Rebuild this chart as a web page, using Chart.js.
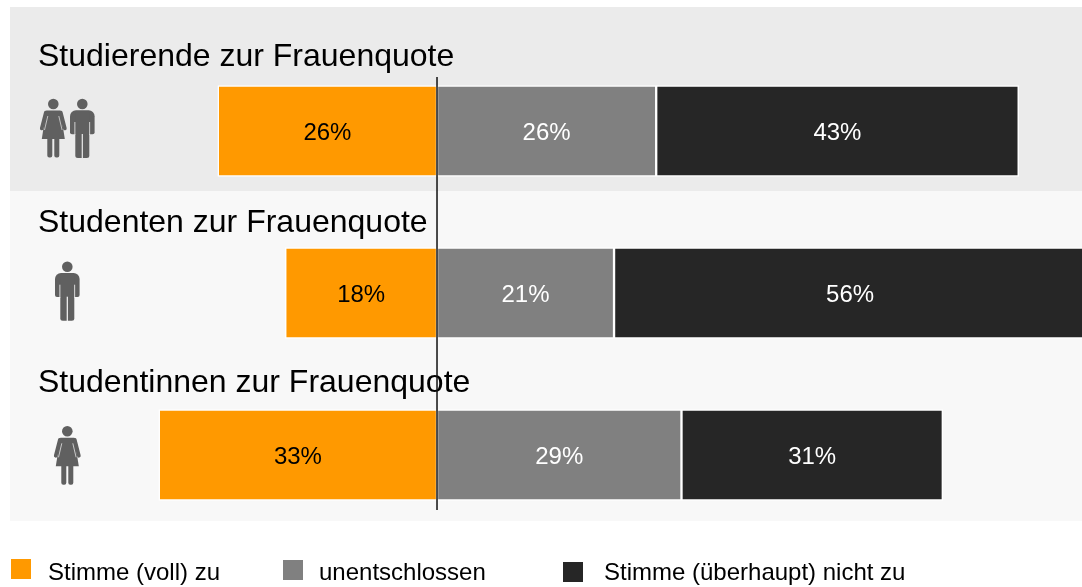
<!DOCTYPE html>
<html lang="de">
<head>
<meta charset="utf-8">
<title>Studierende zur Frauenquote</title>
<script src="https://cdn.jsdelivr.net/npm/chart.js@4"></script>
<style>
    html, body { margin: 0; padding: 0; background: #fff; overflow: hidden; }
    canvas { display: block; }
</style>
</head>
<body>
<canvas id="chart" width="1082" height="587"></canvas>
<script>
var categories = ['Studierende zur Frauenquote', 'Studenten zur Frauenquote', 'Studentinnen zur Frauenquote'];
var seriesNames = ['Stimme (voll) zu', 'unentschlossen', 'Stimme (überhaupt) nicht zu'];
var agree = [26, 18, 33];
var undecided = [26, 21, 29];
var disagree = [43, 56, 31];

var COLORS = ['#ff9900', '#808080', '#262626'];
var LABEL_COLORS = ['#000000', '#ffffff', '#ffffff'];
var FONT = '"Liberation Sans", Arial, sans-serif';
var ICON_COLOR = '#606060';

function drawMan(ctx, x, y, background) {
    ctx.save();
    ctx.translate(x, y);
    ctx.fillStyle = ICON_COLOR;
    ctx.beginPath();
    ctx.arc(0, 0, 5.3, 0, Math.PI * 2);
    ctx.fill();
    ctx.beginPath();
    ctx.roundRect(-12.3, 6.3, 24.6, 24, [6, 6, 2, 2]);
    ctx.fill();
    ctx.beginPath();
    ctx.roundRect(-7, 8, 14, 46, [0, 0, 2.5, 2.5]);
    ctx.fill();
    // gaps between arms, torso and legs
    ctx.fillStyle = background;
    ctx.fillRect(-7.8, 18, 0.8, 13);
    ctx.fillRect(7, 18, 0.8, 13);
    ctx.fillRect(-0.6, 30, 1.2, 25);
    ctx.restore();
}

function drawWoman(ctx, x, y, background) {
    ctx.save();
    ctx.translate(x, y);
    ctx.fillStyle = ICON_COLOR;
    ctx.beginPath();
    ctx.arc(0, 0, 5.3, 0, Math.PI * 2);
    ctx.fill();
    // dress
    ctx.beginPath();
    ctx.moveTo(-7, 6.5);
    ctx.lineTo(7, 6.5);
    ctx.lineTo(11.5, 35);
    ctx.lineTo(-11.5, 35);
    ctx.closePath();
    ctx.fill();
    // arms
    ctx.strokeStyle = ICON_COLOR;
    ctx.lineWidth = 3.6;
    ctx.lineCap = 'round';
    ctx.beginPath();
    ctx.moveTo(-7.5, 8.5);
    ctx.lineTo(-11.6, 24.5);
    ctx.moveTo(7.5, 8.5);
    ctx.lineTo(11.6, 24.5);
    ctx.stroke();
    // thin gap between arm and dress
    ctx.strokeStyle = background;
    ctx.lineWidth = 0.7;
    ctx.lineCap = 'butt';
    ctx.beginPath();
    ctx.moveTo(-5.5, 12);
    ctx.lineTo(-8.8, 26);
    ctx.moveTo(5.5, 12);
    ctx.lineTo(8.8, 26);
    ctx.stroke();
    // legs
    ctx.beginPath();
    ctx.roundRect(-6, 34, 5, 19.5, [0, 0, 2, 2]);
    ctx.roundRect(1, 34, 5, 19.5, [0, 0, 2, 2]);
    ctx.fill();
    ctx.restore();
}

var backgroundPlugin = {
    id: 'background',
    beforeDatasetsDraw: function (chart) {
        var ctx = chart.ctx;
        ctx.save();
        ctx.fillStyle = '#ebebeb';
        ctx.fillRect(10, 7, 1072, 184);
        ctx.fillStyle = '#f8f8f8';
        ctx.fillRect(10, 191, 1072, 330);

        // section titles
        var titleY = [66, 232, 392];
        ctx.fillStyle = '#000000';
        ctx.font = '32px ' + FONT;
        ctx.textBaseline = 'alphabetic';
        categories.forEach(function (name, i) {
            ctx.fillText(name, 38, titleY[i]);
        });

        // pictograms
        drawWoman(ctx, 53.3, 104, '#ebebeb');
        drawMan(ctx, 82.3, 104, '#ebebeb');
        drawMan(ctx, 67.3, 266.7, '#f8f8f8');
        drawWoman(ctx, 67.3, 431.3, '#f8f8f8');
        ctx.restore();
    }
};

var overlayPlugin = {
    id: 'overlay',
    afterDatasetsDraw: function (chart) {
        var ctx = chart.ctx;
        var values = [agree, undecided, disagree];
        ctx.save();

        // percent labels inside the bars
        ctx.font = '24px ' + FONT;
        ctx.textAlign = 'center';
        ctx.textBaseline = 'alphabetic';
        values.forEach(function (series, s) {
            var meta = chart.getDatasetMeta(s);
            ctx.fillStyle = LABEL_COLORS[s];
            series.forEach(function (v, i) {
                var c = meta.data[i].getCenterPoint();
                ctx.fillText(v + '%', c.x, c.y + 9);
            });
        });

        // zero line
        var x0 = chart.scales.x.getPixelForValue(0);
        ctx.strokeStyle = '#111111';
        ctx.lineWidth = 1.5;
        ctx.beginPath();
        ctx.moveTo(x0, 77);
        ctx.lineTo(x0, 510);
        ctx.stroke();

        // legend
        var swatchX = [11, 283, 563];
        var swatchY = [559, 560, 562];
        var textX = [48, 319, 604];
        ctx.font = '24px ' + FONT;
        ctx.textAlign = 'left';
        seriesNames.forEach(function (name, i) {
            ctx.fillStyle = COLORS[i];
            ctx.fillRect(swatchX[i], swatchY[i], 20, 20);
            ctx.fillStyle = '#000000';
            ctx.fillText(name, textX[i], 580);
        });
        ctx.restore();
    }
};

function barDataset(label, data, color) {
    return {
        label: label,
        data: data,
        backgroundColor: color,
        borderColor: '#ffffff',
        borderWidth: 1.5,
        borderSkipped: false,
        barThickness: 91
    };
}

new Chart(document.getElementById('chart'), {
    type: 'bar',
    data: {
        labels: categories,
        datasets: [
            barDataset(seriesNames[0], agree.map(function (v) { return -v; }), COLORS[0]),
            barDataset(seriesNames[1], undecided, COLORS[1]),
            barDataset(seriesNames[2], disagree, COLORS[2])
        ]
    },
    plugins: [backgroundPlugin, overlayPlugin],
    options: {
        indexAxis: 'y',
        responsive: false,
        animation: false,
        layout: { padding: { top: 50, bottom: 51, left: 0, right: 0 } },
        scales: {
            x: { display: false, stacked: true, min: -51.84, max: 76.51 },
            y: { display: false, stacked: true }
        },
        plugins: {
            legend: { display: false },
            title: { display: false },
            tooltip: { enabled: false }
        }
    }
});
</script>
</body>
</html>
